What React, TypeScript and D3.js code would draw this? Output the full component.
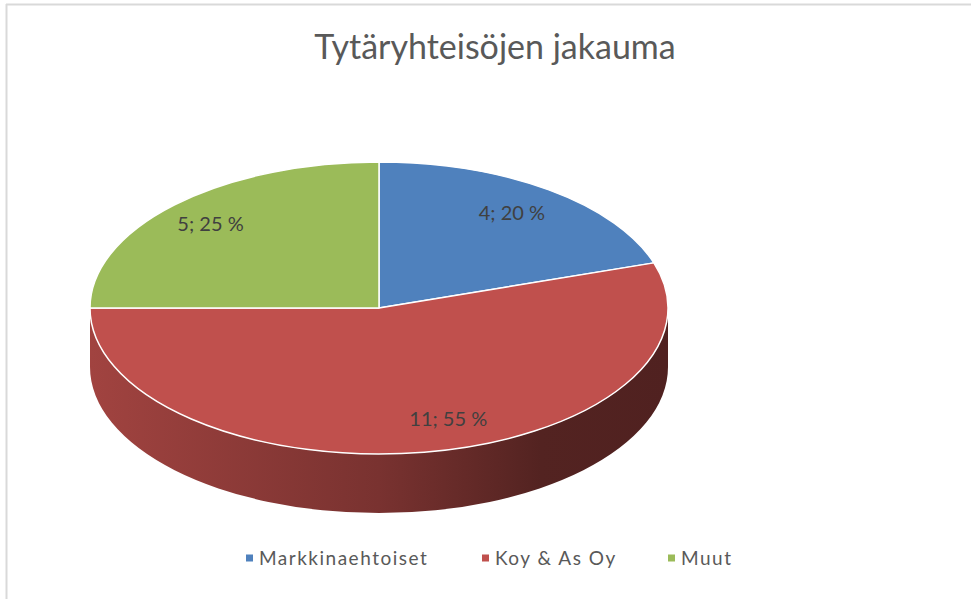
import React from "react";
import * as d3 from "d3";

const title = "Tytäryhteisöjen jakauma";
const categories = ["Markkinaehtoiset", "Koy & As Oy", "Muut"];
const values = [4, 11, 5];
const colors = ["#4f81bd", "#c0504d", "#9bbb59"];

const W = 971;
const H = 599;
const cx = 379;
const cy = 308;
const rx = 289;
const ry = 146;
const depth = 59;
const FONT = "Lato, 'Open Sans', 'DejaVu Sans', sans-serif";

// label placement tweaks (layout, not data)
const labelR = [0.8, 0.78, 0.8];
const labelDx = [-3, 34, -5];
const labelDy = [1, 0, 1];

function pt(a: number, r = 1, dy = 0): [number, number] {
  return [cx + rx * r * Math.sin(a), cy - ry * r * Math.cos(a) + dy];
}

export default function App() {
  const total = d3.sum(values);
  const pie = d3.pie<number>().sort(null).startAngle(0).endAngle(2 * Math.PI);
  const arcs = pie(values);

  const topPath = (a0: number, a1: number) => {
    const p0 = pt(a0);
    const p1 = pt(a1);
    const large = a1 - a0 > Math.PI ? 1 : 0;
    return `M${cx},${cy}L${p0[0]},${p0[1]}A${rx},${ry} 0 ${large} 1 ${p1[0]},${p1[1]}Z`;
  };

  const sidePath = (a0: number, a1: number) => {
    const s = Math.max(a0, Math.PI / 2);
    const e = Math.min(a1, (3 * Math.PI) / 2);
    if (e <= s) return null;
    const p0 = pt(s);
    const p1 = pt(e);
    const q1 = pt(e, 1, depth);
    const q0 = pt(s, 1, depth);
    const large = e - s > Math.PI ? 1 : 0;
    return `M${p0[0]},${p0[1]}A${rx},${ry} 0 ${large} 1 ${p1[0]},${p1[1]}L${q1[0]},${q1[1]}A${rx},${ry} 0 ${large} 0 ${q0[0]},${q0[1]}Z`;
  };

  const legendX = [246, 482, 668];
  const legendY = 558;

  return (
    <svg
      width={W}
      height={H}
      viewBox={`0 0 ${W} ${H}`}
      style={{ position: "absolute", left: 0, top: 0, background: "#fff" }}
    >
      <defs>
        {colors.map((c, i) => {
          const base = d3.rgb(c);
          return (
            <linearGradient
              key={i}
              id={`side${i}`}
              gradientUnits="userSpaceOnUse"
              x1={cx - rx}
              y1={0}
              x2={cx + rx}
              y2={0}
            >
              <stop offset="0" stopColor={base.darker(0.5).toString()} />
              <stop offset="0.5" stopColor={base.darker(1.3).toString()} />
              <stop offset="0.78" stopColor={base.darker(2.35).toString()} />
              <stop offset="1" stopColor={base.darker(2.45).toString()} />
            </linearGradient>
          );
        })}
      </defs>
      <rect x={0} y={0} width={W} height={H} fill="#fff" />
      <line x1={6} y1={4.5} x2={W} y2={4.5} stroke="#d9d9d9" strokeWidth={2} />
      <line x1={6.5} y1={4} x2={6.5} y2={H} stroke="#d9d9d9" strokeWidth={2} />

      <text
        x={495}
        y={59}
        textAnchor="middle"
        fontFamily={FONT}
        fontSize={34}
        fill="#595959"
      >
        {title}
      </text>

      {arcs.map((a, i) => {
        const d = sidePath(a.startAngle, a.endAngle);
        return d ? <path key={`s${i}`} d={d} fill={`url(#side${i})`} /> : null;
      })}

      {arcs.map((a, i) => (
        <path
          key={`t${i}`}
          d={topPath(a.startAngle, a.endAngle)}
          fill={colors[i]}
          stroke="#fff"
          strokeWidth={1.5}
          strokeLinejoin="round"
        />
      ))}

      {arcs.map((a, i) => {
        const mid = (a.startAngle + a.endAngle) / 2;
        const p = pt(mid, labelR[i]);
        const pct = Math.round((values[i] / total) * 100);
        return (
          <text
            key={`l${i}`}
            x={p[0] + labelDx[i]}
            y={p[1] + labelDy[i]}
            textAnchor="middle"
            dominantBaseline="middle"
            fontFamily={FONT}
            fontSize={20}
            fill="#404040"
          >
            {`${values[i]}; ${pct} %`}
          </text>
        );
      })}

      {categories.map((c, i) => (
        <g key={`lg${i}`}>
          <rect x={legendX[i]} y={legendY - 3.5} width={7} height={7} fill={colors[i]} />
          <text
            x={legendX[i] + 13}
            y={legendY + 6.5}
            fontFamily={FONT}
            fontSize={19}
            letterSpacing={1.5}
            fill="#595959"
          >
            {c}
          </text>
        </g>
      ))}
    </svg>
  );
}
